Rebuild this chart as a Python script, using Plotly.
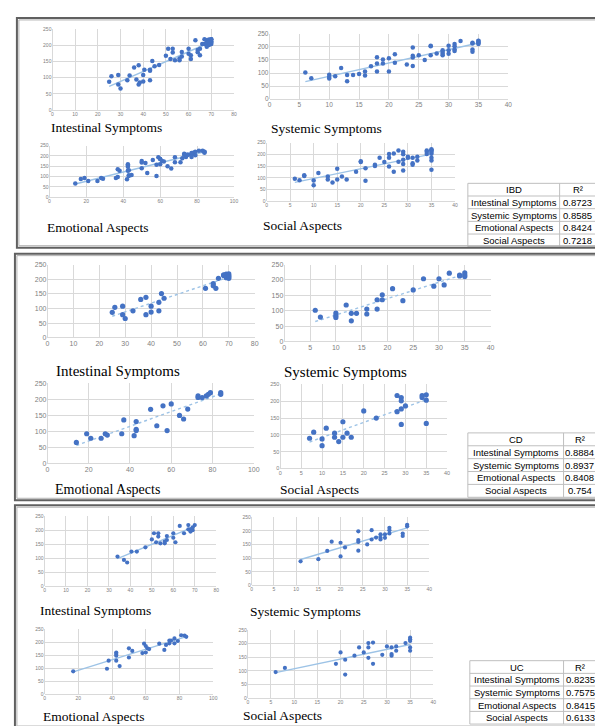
import numpy as np
import plotly.graph_objects as go

W, H = 603, 726

# ---------------- data ----------------
domains = ["Intestinal Symptoms", "Systemic Symptoms", "Emotional Aspects", "Social Aspects"]

cd_int_x = [25, 26, 29, 29, 30, 33, 36, 38, 38, 40, 40, 43, 43, 44, 45, 61, 64, 64, 65, 66, 68, 68, 69, 69, 69, 70, 70, 70, 70]
cd_int_y = [87, 104, 108, 79, 66, 92, 131, 138, 79, 108, 88, 121, 92, 151, 135, 169, 185, 178, 169, 203, 213, 215, 210, 217, 205, 212, 218, 203, 208]
cd_sys_x = [6, 7, 10, 10, 10, 12, 13, 13, 14, 16, 16, 18, 18, 19, 19, 21, 23, 25, 27, 29, 30, 31, 32, 34, 34, 35, 35, 35]
cd_sys_y = [102, 80, 93, 85, 79, 119, 92, 68, 92, 106, 90, 136, 106, 152, 136, 172, 133, 168, 204, 180, 204, 184, 222, 216, 213, 223, 216, 211]
cd_emo_x = [14, 19, 21, 26, 28, 29, 36, 37, 42, 43, 43, 43, 50, 53, 56, 58, 60, 64, 66, 68, 73, 73, 75, 77, 78, 79, 84, 84]
cd_emo_y = [66, 93, 79, 79, 93, 89, 93, 136, 87, 131, 107, 103, 169, 118, 180, 103, 186, 150, 139, 170, 211, 206, 206, 211, 216, 221, 221, 216]
cd_soc_x = [7, 8, 10, 10, 11, 13, 13, 14, 15, 15, 16, 17, 20, 23, 28, 28, 29, 29, 29, 29, 30, 34, 34, 35, 35, 35]
cd_soc_y = [90, 108, 88, 68, 120, 105, 93, 80, 139, 93, 105, 93, 171, 150, 217, 169, 211, 201, 177, 131, 186, 217, 211, 219, 203, 134]

uc_int_x = [34, 37, 38.5, 40.5, 43, 47, 50, 51, 53, 52, 53, 54, 56, 56, 57, 57, 60, 60, 61, 63, 65, 67, 67, 68, 69, 68, 69, 70]
uc_int_y = [106, 94, 85, 124, 124, 139, 167, 189, 189, 157, 177, 153, 153, 159, 179, 165, 189, 173, 157, 215, 189, 218, 203, 203, 200, 195, 210, 218]
uc_sys_x = [11, 15, 17, 18, 20, 20, 21, 24, 24, 24, 24, 26, 27, 27, 28, 29, 29, 29, 30, 30, 31, 31, 31, 34, 34, 35, 35]
uc_sys_y = [88, 96, 126, 160, 156, 106, 139, 198, 166, 159, 127, 150, 202, 168, 175, 174, 187, 168, 174, 187, 211, 202, 190, 190, 181, 222, 216]
uc_emo_x = [17, 37, 38, 42.5, 42.5, 42.5, 42.5, 44.5, 50, 50, 52, 58, 59, 60, 60, 61, 62, 68, 71, 72, 74, 74, 75, 77, 77, 79, 81, 83, 84]
uc_emo_y = [88, 98, 129, 160, 154, 148, 129, 108, 176, 141, 166, 158, 194, 185, 160, 176, 173, 194, 170, 189, 195, 206, 206, 195, 214, 204, 226, 225, 220]
uc_soc_x = [6, 8, 19, 20, 21, 21, 23, 24, 25, 26, 26, 26, 27, 27, 29, 30, 31, 31, 31, 32, 32, 34, 35, 35, 35, 35, 35]
uc_soc_y = [96, 111, 126, 168, 87, 141, 156, 186, 168, 202, 186, 148, 204, 126, 159, 190, 186, 162, 156, 190, 174, 202, 222, 216, 210, 186, 174]

cd_x = [cd_int_x, cd_sys_x, cd_emo_x, cd_soc_x]
cd_y = [cd_int_y, cd_sys_y, cd_emo_y, cd_soc_y]
uc_x = [uc_int_x, uc_sys_x, uc_emo_x, uc_soc_x]
uc_y = [uc_int_y, uc_sys_y, uc_emo_y, uc_soc_y]
ibd_x = [a + b for a, b in zip(cd_x, uc_x)]
ibd_y = [a + b for a, b in zip(cd_y, uc_y)]

ibd_r2 = ["0.8723", "0.8585", "0.8424", "0.7218"]
cd_r2 = ["0.8884", "0.8937", "0.8408", "0.754"]
uc_r2 = ["0.8235", "0.7575", "0.8415", "0.6133"]

x_max = [80, 40, 100, 40]
x_dtick = [10, 5, 20, 5]
y_max, y_dtick = 250, 50

# ---------------- layout geometry (pixels) ----------------
# (left, right, top, bottom, tickfont, label_x, label_y, label_size)
boxes = {
    "IBD": [(43, 227, 17, 99, 5, 41, 117, 13.5),
            (263, 505, 22, 88, 6.5, 263, 118, 13.5),
            (40, 227, 135, 187, 5, 36, 218, 13.5),
            (260, 451, 132, 191, 5, 255, 216, 13.5)],
    "CD": [(38, 248, 255, 329, 7, 46, 362, 15),
           (278, 487, 255, 333, 7, 277, 363, 15),
           (38, 247, 375, 456, 7, 45, 482, 14),
           (274, 443, 376, 461, 5.5, 273, 482, 13.5)],
    "UC": [(35, 209, 509, 580, 5, 29, 604, 13.5),
           (245, 425, 510, 579, 5, 242, 605, 13.5),
           (35, 206, 623, 689, 5, 32, 711, 13.5),
           (241, 429, 624, 693, 5, 235, 710, 13.5)],
}
# (left, split, right, top, bottom)
tables = {"IBD": (464, 557, 594, 173, 237), "CD": (464, 561, 594, 425, 490), "UC": (466, 561, 595, 655, 719)}
panels = {"IBD": (7, 6, 597, 238), "CD": (5, 244, 599, 493), "UC": (5, 498, 600, 723)}
marker_size = {"IBD": 4.5, "CD": 5.2, "UC": 4.2}
line_dash = {"IBD": "solid", "CD": "dot", "UC": "solid"}

datasets = {"IBD": (ibd_x, ibd_y, ibd_r2), "CD": (cd_x, cd_y, cd_r2), "UC": (uc_x, uc_y, uc_r2)}

fig = go.Figure()
layout = {}
annotations = []
shapes = []

def px_x(v):
    return v / W

def px_y(v):
    return 1 - v / H

def pline(x0, y0, x1, y1, color="#BFBFBF", width=1):
    shapes.append(dict(type="line", xref="paper", yref="paper",
                       x0=px_x(x0), x1=px_x(x1), y0=px_y(y0), y1=px_y(y1),
                       line=dict(color=color, width=width)))

def ptext(text, x, y, size, family="Liberation Sans, Arial", xanchor="center"):
    annotations.append(dict(text=text, xref="paper", yref="paper", x=px_x(x), y=px_y(y),
                            xanchor=xanchor, yanchor="middle", showarrow=False,
                            borderpad=0,
                            font=dict(family=family, size=size, color="#000000")))

k = 0
for grp in ["IBD", "CD", "UC"]:
    xs_all, ys_all, r2 = datasets[grp]
    for j in range(4):
        k += 1
        left, right, top, bottom, tfs, lx, ly, lsz = boxes[grp][j]
        xa = "x" if k == 1 else f"x{k}"
        ya = "y" if k == 1 else f"y{k}"
        xname = "xaxis" if k == 1 else f"xaxis{k}"
        yname = "yaxis" if k == 1 else f"yaxis{k}"
        x = np.array(xs_all[j], dtype=float)
        y = np.array(ys_all[j], dtype=float)
        c = np.polyfit(x, y, 1)
        tx = np.array([x.min(), x.max()])
        fig.add_trace(go.Scatter(x=tx, y=np.polyval(c, tx), mode="lines", xaxis=xa, yaxis=ya,
                                 line=dict(color="#9DC3E6", width=1.4, dash=line_dash[grp]),
                                 showlegend=False, hoverinfo="skip"))
        fig.add_trace(go.Scatter(x=x, y=y, mode="markers", xaxis=xa, yaxis=ya,
                                 marker=dict(color="#4472C4", size=marker_size[grp]),
                                 showlegend=False, hoverinfo="skip"))
        common = dict(showgrid=True, gridcolor="#D9D9D9", gridwidth=1, zeroline=True,
                      zerolinecolor="#D9D9D9", zerolinewidth=1, showline=False, ticks="",
                      tickfont=dict(family="Liberation Sans, Arial", size=tfs, color="#808080"),
                      fixedrange=True)
        layout[xname] = dict(domain=[px_x(left), px_x(right)], range=[0, x_max[j]],
                             dtick=x_dtick[j], tick0=0, anchor=ya, **common)
        layout[yname] = dict(domain=[px_y(bottom), px_y(top)], range=[0, y_max],
                             dtick=y_dtick, tick0=0, anchor=xa, **common)
        ptext(domains[j], lx, ly, lsz, family="Liberation Serif, Times New Roman", xanchor="left")
    # R² table drawn with lines and text
    tl, ts, tr, tt, tb = tables[grp]
    rh = (tb - tt) / 5
    shapes.append(dict(type="rect", xref="paper", yref="paper",
                       x0=px_x(tl), x1=px_x(tr), y0=px_y(tb), y1=px_y(tt),
                       fillcolor="white", line=dict(color="#BFBFBF", width=1)))
    pline(ts, tt, ts, tb)
    for r in range(1, 5):
        pline(tl, tt + r * rh, tr, tt + r * rh)
    rows_left = [grp] + domains
    rows_right = ["R²"] + r2
    for r in range(5):
        cy = tt + (r + 0.5) * rh
        ptext(rows_left[r], (tl + ts) / 2, cy, 9.5)
        ptext(rows_right[r], (ts + tr) / 2, cy, 9.5)
    # panel border
    pl, pt, pr, pb = panels[grp]
    shapes.append(dict(type="rect", xref="paper", yref="paper",
                       x0=px_x(pl), x1=px_x(pr), y0=px_y(pb), y1=px_y(pt),
                       line=dict(color="#606060", width=2)))
    shapes.append(dict(type="rect", xref="paper", yref="paper",
                       x0=px_x(pl + 2), x1=px_x(pr - 2), y0=px_y(pb - 2), y1=px_y(pt + 2),
                       line=dict(color="#B0B0B0", width=1)))

fig.update_layout(width=W, height=H, margin=dict(l=0, r=0, t=0, b=0),
                  paper_bgcolor="white", plot_bgcolor="white",
                  annotations=annotations, shapes=shapes, showlegend=False, **layout)

fig.write_html("out.html")
